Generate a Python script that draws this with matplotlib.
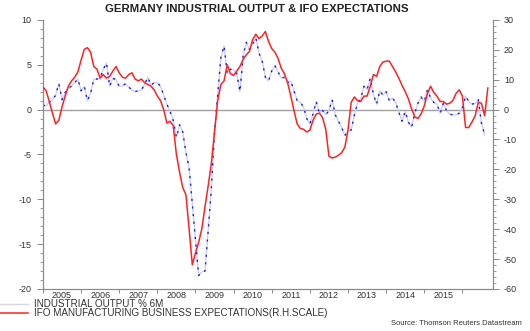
import numpy as np
import matplotlib
matplotlib.use("Agg")
import matplotlib.pyplot as plt
from matplotlib.ticker import MultipleLocator, FixedLocator, NullFormatter
from matplotlib.lines import Line2D

plt.rcParams['font.family'] = ['Liberation Sans', 'DejaVu Sans']
plt.rcParams['axes.unicode_minus'] = False

# monthly data, Jan 2005 onwards
ind_output = [
    0.5, 0.4, 0.8, 1.1, 1.6, 2.9, 1.1, 1.9, 2.4, 2.6, 3.0, 3.4,
    2.1, 2.6, 1.0, 1.8, 3.4, 3.4, 3.5, 4.5, 5.2, 2.6, 3.5, 3.3,
    2.6, 2.6, 2.9, 2.5, 2.2, 2.0, 2.1, 2.2, 2.8, 3.6, 2.7, 3.0,
    3.0, 2.6, 1.6, 0.6, -0.2, -1.2, -3.1, -1.7, -2.5, -4.8, -6.5, -10.5,
    -14.5, -18.5, -18.1, -18.0, -13.5, -8.8, -2.5, 1.6, 5.8, 7.1, 4.0, 4.5,
    4.4, 4.0, 2.0, 6.0, 7.5, 6.7, 7.3, 8.0, 6.3, 5.4, 3.6, 3.2,
    4.3, 4.9, 4.2, 3.5, 3.6, 3.0, 3.2, 2.1, 1.0, 0.8, 0.3, -1.0,
    -1.6, -0.5, 0.9, -0.4, -0.1, -0.6, -0.1, 1.1, -0.6, -1.3, -2.0, -2.9,
    -2.4, -2.3, -0.6, 0.7, 1.2, 2.6, 2.2, 3.5, 1.7, 0.6, 2.1, 1.6,
    2.0, 1.0, 1.3, 0.8, -0.3, -1.3, -0.2, -1.4, -2.0, -0.4, 0.7, 1.4,
    0.9, 2.2, 1.3, 0.8, 0.6, -0.4, 0.7, -0.1, -0.5, -0.6, -0.6, -0.4,
    0.2, 1.5, 0.9, 0.6, 0.7, 1.1, -1.5, -2.8,
]

ifo_expect = [
    7.5, 6.3, 2.7, -1.2, -4.8, -3.6, 0.9, 4.5, 7.8, 9.6, 10.8, 12.6,
    16.5, 20.1, 20.7, 19.2, 14.4, 13.5, 10.5, 11.7, 10.5, 11.1, 12.9, 14.4,
    12.3, 10.8, 10.5, 11.7, 12.3, 10.2, 9.6, 10.2, 9.0, 8.4, 7.8, 6.6,
    4.5, 3.0, 0.0, -4.5, -3.9, -5.4, -15.0, -21.0, -26.1, -28.5, -39.9, -51.9,
    -48.0, -44.4, -39.9, -32.4, -25.5, -18.0, -7.5, 3.0, 8.4, 9.6, 15.0, 12.0,
    11.4, 12.9, 14.4, 16.8, 18.3, 19.5, 23.4, 25.2, 23.7, 24.6, 26.1, 22.8,
    20.4, 19.2, 17.1, 13.8, 12.0, 9.0, 4.5, -0.3, -4.8, -6.3, -6.6, -7.5,
    -6.9, -3.6, -1.5, -1.2, -2.7, -6.6, -15.6, -16.2, -15.9, -15.3, -14.4, -12.6,
    -6.9, 2.4, 4.2, 3.0, 2.7, 4.5, 4.5, 7.8, 11.7, 11.1, 14.4, 15.9,
    16.2, 16.2, 14.4, 12.6, 10.5, 8.1, 6.0, 3.6, 0.3, -2.4, -3.0, -1.5,
    1.2, 5.4, 7.8, 5.7, 4.5, 2.7, 2.7, 1.8, 2.1, 3.0, 5.4, 6.6,
    4.5, -6.0, -6.0, -4.2, -2.1, 2.4, 2.1, -2.1, 7.2,
]

years = list(range(2005, 2016))

x_ind = 2005 + np.arange(len(ind_output)) / 12
x_ifo = 2005 + np.arange(len(ifo_expect)) / 12

fig = plt.figure(figsize=(5.3, 3.31), dpi=100)
ax = fig.add_axes([0.081, 0.127, 0.849, 0.813])
ax2 = ax.twinx()

spine_col = '#8a8a8a'
txt_col = '#333333'

ax.axhline(0, color='#a0a0a0', lw=1.0, zorder=1)
ax.plot(x_ind, ind_output, color='#c9cdf2', lw=0.9, zorder=2)
ax.plot(x_ind, ind_output, color='#1a1aee', lw=1.0, dashes=(1.5, 4), zorder=3)
ax2.plot(x_ifo, ifo_expect, color='#ff2222', lw=1.1, zorder=4)

ax.set_xlim(2005, 2016.8)
ax.set_ylim(-20, 10)
ax2.set_ylim(-60, 30)

ax.yaxis.set_major_locator(MultipleLocator(5))
ax.yaxis.set_minor_locator(MultipleLocator(1))
ax2.yaxis.set_major_locator(MultipleLocator(10))
ax2.yaxis.set_minor_locator(MultipleLocator(2))

ax.xaxis.set_major_locator(FixedLocator(list(range(2005, 2017))))
ax.xaxis.set_major_formatter(NullFormatter())
ax.xaxis.set_minor_locator(FixedLocator([y + 0.5 for y in years]))
ax.set_xticklabels([str(y) for y in years], minor=True)

for a in (ax, ax2):
    for s in a.spines.values():
        s.set_color(spine_col)
        s.set_linewidth(0.8)
    a.spines['top'].set_visible(False)
    a.tick_params(which='both', colors=spine_col, labelcolor=txt_col, labelsize=6.5)

ax.tick_params(axis='y', which='major', length=4, width=0.7, pad=4)
ax.tick_params(axis='y', which='minor', length=2, width=0.6)
ax2.tick_params(axis='y', which='major', length=4, width=0.7, pad=4)
ax2.tick_params(axis='y', which='minor', length=2, width=0.6)
ax.tick_params(axis='x', which='major', length=3, width=0.7)
ax.tick_params(axis='x', which='minor', length=0, pad=1.5)

fig.text(0.485, 0.972, 'GERMANY INDUSTRIAL OUTPUT & IFO EXPECTATIONS',
         ha='center', va='center', fontsize=8.2, fontweight='bold', color='#222222')

handles = [Line2D([], [], color='#d6d6de', lw=1.0),
           Line2D([], [], color='#ff2222', lw=1.1)]
fig.legend(handles, ['INDUSTRIAL OUTPUT % 6M',
                     'IFO MANUFACTURING BUSINESS EXPECTATIONS(R.H.SCALE)'],
           loc='upper left', bbox_to_anchor=(-0.003, 0.096), frameon=False,
           fontsize=7.1, handlelength=3.0, handletextpad=0.6,
           labelspacing=-0.12, borderaxespad=0, borderpad=0, labelcolor=txt_col)

fig.text(0.985, 0.022, 'Source: Thomson Reuters Datastream', ha='right',
         va='center', fontsize=5.5, color=txt_col)

fig.savefig('out.png', dpi=100)
